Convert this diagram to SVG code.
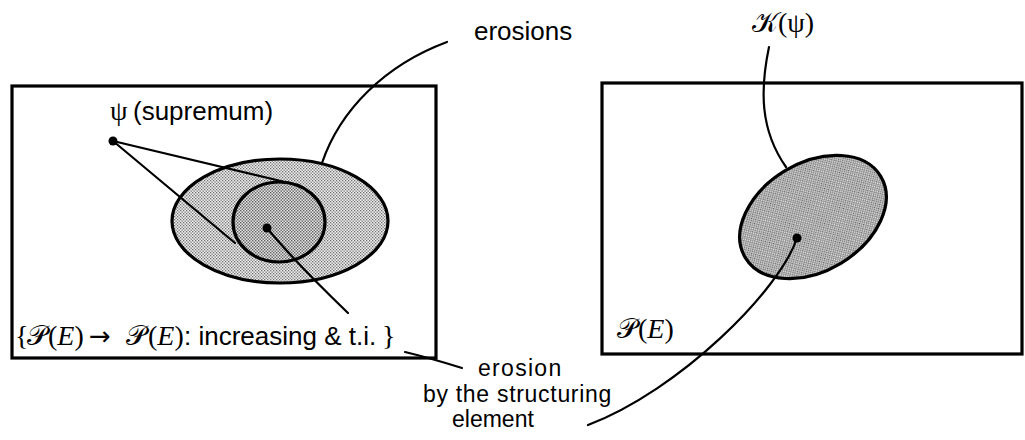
<svg xmlns="http://www.w3.org/2000/svg" width="1025" height="440" viewBox="0 0 1025 440">
  <defs>
    <pattern id="stip" width="3" height="3" patternUnits="userSpaceOnUse">
      <rect width="3" height="3" fill="#eeeeee"/>
      <rect x="0" y="0" width="1.3" height="1.3" fill="#707070"/>
      <rect x="1.5" y="1.5" width="1.3" height="1.3" fill="#707070"/>
    </pattern>
    <pattern id="stipDark" width="3" height="3" patternUnits="userSpaceOnUse">
      <rect width="3" height="3" fill="#e4e4e4"/>
      <rect x="0" y="0" width="1.4" height="1.4" fill="#606060"/>
      <rect x="1.5" y="1.5" width="1.4" height="1.4" fill="#606060"/>
    </pattern>
  </defs>
  <style>
    .box { fill: #fff; stroke: #000; stroke-width: 3.2; }
    .set { stroke: #000; stroke-width: 3.2; }
    .conn { fill: none; stroke: #000; stroke-width: 2.2; stroke-linecap: round; }
    .dot { fill: #000; }
    .sans { font-family: "Liberation Sans", Arial, sans-serif; font-size: 26px; fill: #000; }
    .note { font-family: "Liberation Sans", Arial, sans-serif; font-size: 23px; fill: #000; }
    .serif { font-family: "Liberation Serif", "Times New Roman", serif; font-size: 28px; fill: #000; }
    .script { font-family: "DejaVu Serif", "DejaVu Sans", "Noto Sans", serif; font-size: 28px; fill: #000; }
    .arrow { font-family: "DejaVu Sans", "Liberation Serif", sans-serif; font-size: 26px; fill: #000; }
  </style>
  <rect width="1025" height="440" fill="#fff"/>

  <g id="left-box">
    <rect class="box" x="12" y="86" width="424" height="272"/>
  </g>
  <g id="right-box">
    <rect class="box" x="602" y="83" width="420" height="271"/>
  </g>

  <g id="erosions-set">
    <ellipse class="set" cx="280" cy="221" rx="108" ry="62" fill="url(#stip)"/>
  </g>
  <g id="structuring-erosion-set">
    <ellipse class="set" cx="279" cy="222" rx="46" ry="40" fill="url(#stipDark)"/>
  </g>
  <g id="kernel-set">
    <ellipse class="set" cx="813" cy="217" rx="79" ry="54" transform="rotate(-31 813 217)" fill="url(#stipDark)"/>
  </g>

  <g id="connectors">
    <path class="conn" d="M113,141 L289,183"/>
    <path class="conn" d="M113,141 L235,243"/>
    <path class="conn" d="M267,228 Q295,262 348,313"/>
    <path class="conn" d="M322,163 C340,110 385,65 447,42"/>
    <path class="conn" d="M405,352 Q430,358 462,368"/>
    <path class="conn" d="M769,47 C760,90 760,130 786,167"/>
    <path class="conn" d="M797,238 C780,290 680,390 588,425"/>
  </g>

  <g id="points">
    <circle class="dot" cx="113" cy="141" r="4.5"/>
    <circle class="dot" cx="267" cy="228" r="4.5"/>
    <circle class="dot" cx="797" cy="238" r="4.5"/>
  </g>

  <g id="label-supremum">
    <text class="serif" x="110" y="120" font-size="26">ψ</text>
    <text class="sans" x="133" y="120">(supremum)</text>
  </g>
  <g id="label-erosions">
    <text class="sans" x="474" y="40">erosions</text>
  </g>
  <g id="label-kernel">
    <text class="script" x="752" y="32" font-size="22">𝒦<tspan class="serif" font-size="22">(ψ)</tspan></text>
  </g>
  <g id="label-left-set">
    <text y="345">
      <tspan class="serif" x="15" font-size="26">{</tspan>
      <tspan class="script" x="27">𝒫</tspan>
      <tspan class="serif" x="48">(<tspan font-style="italic">E</tspan>)</tspan>
      <tspan class="arrow" x="89">→</tspan>
      <tspan class="script" x="126">𝒫</tspan>
      <tspan class="serif" x="148">(<tspan font-style="italic">E</tspan>)</tspan>
      <tspan class="sans" x="184">: increasing &amp; t.i.</tspan>
      <tspan class="serif" x="382" font-size="26">}</tspan>
    </text>
  </g>
  <g id="label-right-set">
    <text y="338">
      <tspan class="script" x="617">𝒫</tspan>
      <tspan class="serif" x="638">(<tspan font-style="italic">E</tspan>)</tspan>
    </text>
  </g>
  <g id="label-erosion-se">
    <text class="note" x="478" y="376" letter-spacing="1.3">erosion</text>
    <text class="note" x="423" y="402" letter-spacing="0.7">by the structuring</text>
    <text class="note" x="452" y="427">element</text>
  </g>
</svg>
